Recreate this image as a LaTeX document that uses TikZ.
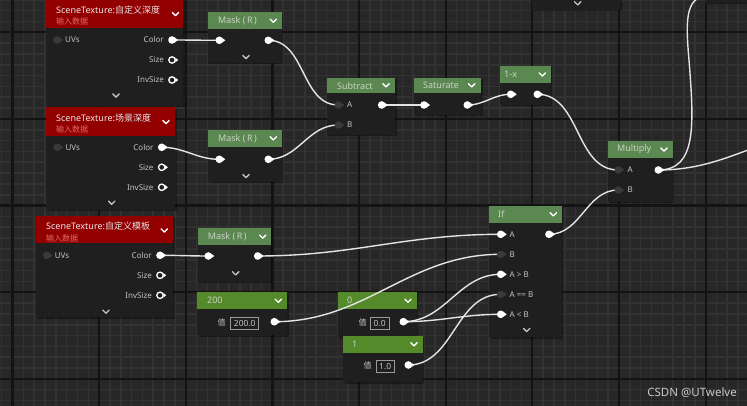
\documentclass[tikz,border=0pt]{standalone}
\usepackage{fontspec}
\setmainfont{Noto Sans}
\newfontfamily\cjk{Noto Sans CJK SC}
\definecolor{bgc}{HTML}{272727}
\definecolor{gridminor}{HTML}{323232}
\definecolor{gridmajor}{HTML}{131313}
\definecolor{bodyc}{HTML}{1F1F1F}
\definecolor{redc}{HTML}{930000}
\definecolor{mathc}{HTML}{5B8751}
\definecolor{constc}{HTML}{548A29}
\definecolor{ttlc}{HTML}{E6E6E6}
\definecolor{gttl}{HTML}{CBD3C6}
\definecolor{subc}{HTML}{E06A6A}
\definecolor{lblc}{HTML}{C4C4C4}
\definecolor{darkpin}{HTML}{3A3A3A}
\definecolor{wirec}{HTML}{E4E4E4}
\definecolor{boxc}{HTML}{9A9A9A}
\definecolor{wmc}{HTML}{C8C8C8}
\pgfdeclarelayer{gridlayer}
\pgfdeclarelayer{bodies}
\pgfdeclarelayer{wires}
\pgfsetlayers{gridlayer,bodies,wires,main}
\tikzset{
  ttl/.style={anchor=west, inner sep=0, font=\fontsize{9}{10}\selectfont, text=ttlc},
  gtl/.style={anchor=west, inner sep=0, font=\fontsize{9}{10}\selectfont, text=gttl},
  subt/.style={anchor=west, inner sep=0, font=\cjk\fontsize{8}{8}\selectfont, text=subc},
  lbl/.style={inner sep=0, font=\fontsize{8}{8}\selectfont, text=lblc},
  lblw/.style={lbl, anchor=west},
  lble/.style={lbl, anchor=east},
  valbox/.style={draw=boxc, line width=0.8, inner sep=0, minimum height=11.6, font=\fontsize{8.4}{9}\selectfont, text=lblc},
  pinw/.style={circle, fill=white, inner sep=0, minimum size=7.6},
  pind/.style={circle, fill=darkpin, inner sep=0, minimum size=7.6},
  pinh/.style={circle, draw=white, line width=1.3, inner sep=0, minimum size=6.4},
  wire/.style={draw=wirec, line width=1.4},
  grminor/.style={draw=gridminor, line width=1.6},
  grmajor/.style={draw=gridmajor, line width=2.2},
}
\newcommand\uebox[6]{%
  \begin{pgfonlayer}{bodies}
    \fill[black, opacity=0.35] (#1+1.5,#3+1.5) rectangle (#2+1.5,#5+1.5);
    \fill[bodyc] (#1,#4) rectangle (#2,#5);
    \fill[#6] (#1,#3) rectangle (#2,#4);
  \end{pgfonlayer}}
\newcommand\uechev[2]{\draw[#1, line width=1.3, line cap=round, line join=round, shift={(#2)}] (-3.2,-1.6) -- (0,1.6) -- (3.2,-1.6);}
\newcommand\pinW[2]{\fill[white, shift={(#2)}] (3.0,2.3) -- (6.0,0) -- (3.0,-2.3) -- cycle; \node[pinw] (#1) at (#2) {};}
\newcommand\pinD[2]{\fill[darkpin, shift={(#2)}] (3.0,2.3) -- (6.0,0) -- (3.0,-2.3) -- cycle; \node[pind] (#1) at (#2) {};}
\newcommand\pinH[2]{\fill[white, shift={(#2)}] (3.4,2.3) -- (6.2,0) -- (3.4,-2.3) -- cycle; \node[pinh] (#1) at (#2) {};}
\begin{document}
\begin{tikzpicture}[x=1pt, y=-1pt]
\useasboundingbox (0,0) rectangle (747,406);
\clip (0,0) rectangle (747,406);
% ---------- grid ----------
\begin{pgfonlayer}{gridlayer}
\fill[bgc] (0,0) rectangle (747,406);
\foreach \i in {-2,...,70} \draw[grminor] ({12.5+\i*10.83},0) -- ++(0,406);
\foreach \j in {-4,...,36} \draw[grminor] (0,{32.3+\j*10.83}) -- ++(747,0);
\foreach \i in {-1,...,9} \draw[grmajor] ({12.5+\i*86.64},0) -- ++(0,406);
\foreach \j in {-1,...,5} \draw[grmajor] (0,{32.3+\j*86.64}) -- ++(747,0);
\end{pgfonlayer}
% ---------- node boxes ----------
\uebox{531.7}{620}{-10}{-9}{10}{bodyc}
\uebox{705}{760}{-10}{-9}{3}{bodyc}
\uebox{46}{183.3}{-3}{27.7}{106}{redc}
\uebox{46}{175}{107.3}{135.7}{210}{redc}
\uebox{36}{173.3}{216}{243.3}{317}{redc}
\uebox{207.7}{281.7}{12.3}{29}{63}{mathc}
\uebox{208.3}{281.7}{130}{146.7}{181.7}{mathc}
\uebox{197.7}{270.7}{228.3}{245}{281.7}{mathc}
\uebox{326.7}{395}{77.7}{93.3}{135}{mathc}
\uebox{414.3}{481}{77.7}{93.3}{115}{mathc}
\uebox{500}{550.7}{66}{82.7}{105}{mathc}
\uebox{607.7}{672.7}{141}{157.7}{202}{mathc}
\uebox{489}{561.7}{206}{222.7}{337}{mathc}
\uebox{197.3}{287}{292.3}{309}{335}{constc}
\uebox{338.3}{416.7}{292.3}{309}{337}{constc}
\uebox{343.3}{422.7}{336}{352.7}{382}{constc}
% ---------- titles ----------
\node[ttl] (t1) at (56,10) {SceneTexture:{\cjk 自定义深度}};
\node[subt] (s1) at (56,21.5) {输入数据};
\node[ttl] (t2) at (56,118) {SceneTexture:{\cjk 场景深度}};
\node[subt] (s2) at (56,129.5) {输入数据};
\node[ttl] (t3) at (46,226.5) {SceneTexture:{\cjk 自定义模板}};
\node[subt] (s3) at (46,238) {输入数据};
\node[gtl] (tm1) at (218,21) {Mask (\,R\,)};
\node[gtl] (tm2) at (218,138.5) {Mask (\,R\,)};
\node[gtl] (tm3) at (207.7,237) {Mask (\,R\,)};
\node[gtl] (tsub) at (337,85.7) {Subtract};
\node[gtl] (tsat) at (423,85.7) {Saturate};
\node[gtl] (tomx) at (504,74.5) {1-x};
\node[gtl] (tmul) at (617,149.5) {Multiply};
\node[gtl] (tif) at (498,214.5) {If};
\node[gtl] (tc200) at (207,300.7) {200};
\node[gtl] (tc0) at (347,300.7) {0};
\node[gtl] (tc1) at (352,344.3) {1};
% header chevrons
\uechev{white}{175.5,14}
\uechev{white}{166,122}
\uechev{white}{164.3,230.5}
\uechev{white}{273.3,20.7}
\uechev{white}{273.3,138.3}
\uechev{white}{262.7,236.6}
\uechev{white}{386,85.3}
\uechev{white}{471.7,85.3}
\uechev{white}{542.3,74.5}
\uechev{white}{664,149.5}
\uechev{white}{553.3,214.3}
\uechev{white}{278.3,300.7}
\uechev{white}{408,300.7}
\uechev{white}{414,344.3}
% body chevrons
\uechev{lblc}{116,95.5}
\uechev{lblc}{111.7,202.7}
\uechev{lblc}{106,311.7}
\uechev{lblc}{246,57}
\uechev{lblc}{246,176}
\uechev{lblc}{235.7,273.3}
\uechev{lblc}{526.7,330}
\uechev{lblc}{577.7,3.3}
% ---------- labels ----------
\node[lblw] (l1u) at (65,40) {UVs};
\node[lble] (l1c) at (164,40) {Color};
\node[lble] (l1s) at (164,60) {Size};
\node[lble] (l1i) at (164,80) {InvSize};
\node[lblw] (l2u) at (65.3,147.3) {UVs};
\node[lble] (l2c) at (153.7,147.3) {Color};
\node[lble] (l2s) at (153.7,167.3) {Size};
\node[lble] (l2i) at (153.7,187.3) {InvSize};
\node[lblw] (l3u) at (54.7,255.3) {UVs};
\node[lble] (l3c) at (152,255.3) {Color};
\node[lble] (l3s) at (152,275.3) {Size};
\node[lble] (l3i) at (152,295.3) {InvSize};
\node[lblw] (lsa) at (347,105) {A};
\node[lblw] (lsb) at (347,125) {B};
\node[lblw] (lma) at (627.5,170) {A};
\node[lblw] (lmb) at (627.5,190) {B};
\node[lblw] (lia) at (509.5,234.3) {A};
\node[lblw] (lib) at (509.5,254.3) {B};
\node[lblw] (lig) at (509.5,274.3) {A > B};
\node[lblw] (lie) at (509.5,294.3) {A == B};
\node[lblw] (lil) at (509.5,314.3) {A < B};
\node[lbl, font=\cjk\fontsize{8}{8}\selectfont] (z200) at (221.7,322.9) {值};
\node[valbox, minimum width=28] (v200) at (244.7,323.5) {200.0};
\node[lbl, font=\cjk\fontsize{8}{8}\selectfont] (z0) at (362.7,322.9) {值};
\node[valbox, minimum width=18.7] (v0) at (379.65,323.5) {0.0};
\node[lbl, font=\cjk\fontsize{8}{8}\selectfont] (z1) at (367.7,365.5) {值};
\node[valbox, minimum width=18.3, minimum height=12.7] (v1) at (385.15,366.35) {1.0};
% ---------- pin coordinates ----------
\coordinate (st1u) at (57,40);      \coordinate (st1c) at (172,40);
\coordinate (st1s) at (172,60);     \coordinate (st1i) at (172,80);
\coordinate (st2u) at (57.3,147.3); \coordinate (st2c) at (161.7,147.3);
\coordinate (st2s) at (161.7,167.3);\coordinate (st2i) at (161.7,187.3);
\coordinate (st3u) at (46.7,255.3); \coordinate (st3c) at (160,255.3);
\coordinate (st3s) at (160,275.3);  \coordinate (st3i) at (160,295.3);
\coordinate (m1i) at (219.3,40.3);  \coordinate (m1o) at (268.3,40.3);
\coordinate (m2i) at (219.3,159.3); \coordinate (m2o) at (268.3,159.3);
\coordinate (m3i) at (208.3,256);   \coordinate (m3o) at (257.7,256);
\coordinate (suba) at (338.3,105);  \coordinate (subb) at (338.3,125);
\coordinate (subo) at (381.7,105);
\coordinate (sati) at (424,105);    \coordinate (sato) at (467.3,105);
\coordinate (omxi) at (510.7,94.3); \coordinate (omxo) at (537.3,94.3);
\coordinate (mula) at (618.3,170);  \coordinate (mulb) at (618.3,190);
\coordinate (mulo) at (658.3,170);
\coordinate (ifa) at (500.7,234.3); \coordinate (ifb) at (500.7,254.3);
\coordinate (ifg) at (500.7,274.3); \coordinate (ife) at (500.7,294.3);
\coordinate (ifl) at (500.7,314.3); \coordinate (ifo) at (549,234.3);
\coordinate (c200o) at (274.3,321.7);
\coordinate (c0o) at (403.3,321.7);
\coordinate (c1o) at (408.3,365);
\coordinate (topT) at (712,-6);
\coordinate (rightT) at (810,132);
% ---------- wires ----------
\begin{pgfonlayer}{wires}
\draw[wire] (st1c) to[out=0,in=180] (m1i);
\draw[wire] (m1o) to[out=0,in=180] (suba);
\draw[wire] (st2c) to[out=0,in=180] (m2i);
\draw[wire] (m2o) to[out=0,in=180] (subb);
\draw[wire] (subo) to[out=0,in=180] (sati);
\draw[wire] (sato) to[out=0,in=180] (omxi);
\draw[wire] (omxo) to[out=0,in=180] (mula);
\draw[wire] (ifo) to[out=0,in=180] (mulb);
\draw[wire] (st3c) to[out=0,in=180] (m3i);
\draw[wire] (m3o) to[out=0,in=180] (ifa);
\draw[wire] (c200o) to[out=0,in=180] (ifb);
\draw[wire] (c0o) to[out=0,in=180] (ifg);
\draw[wire] (c0o) to[out=0,in=180] (ifl);
\draw[wire] (c1o) to[out=0,in=180] (ife);
\draw[wire] (mulo) .. controls (697,170) and (694,125) .. (689,60) .. controls (685,15) and (686,-4) .. (topT);
\draw[wire] (mulo) to[out=0,in=190] (rightT);
\end{pgfonlayer}
% ---------- pins ----------
\pinD{p1u}{st1u} \pinW{p1c}{st1c} \pinH{p1s}{st1s} \pinH{p1i}{st1i}
\pinD{p2u}{st2u} \pinW{p2c}{st2c} \pinH{p2s}{st2s} \pinH{p2i}{st2i}
\pinD{p3u}{st3u} \pinW{p3c}{st3c} \pinH{p3s}{st3s} \pinH{p3i}{st3i}
\pinW{pm1i}{m1i} \pinW{pm1o}{m1o}
\pinW{pm2i}{m2i} \pinW{pm2o}{m2o}
\pinW{pm3i}{m3i} \pinW{pm3o}{m3o}
\pinD{psa}{suba} \pinD{psb}{subb} \pinW{pso}{subo}
\pinW{psti}{sati} \pinW{psto}{sato}
\pinW{poi}{omxi} \pinW{poo}{omxo}
\pinD{pma}{mula} \pinD{pmb}{mulb} \pinW{pmo}{mulo}
\pinW{pia}{ifa} \pinD{pib}{ifb} \pinW{pig}{ifg} \pinD{pie}{ife} \pinW{pil}{ifl} \pinW{pio}{ifo}
\pinW{pc200}{c200o} \pinW{pc0}{c0o} \pinW{pc1}{c1o}
% ---------- watermark ----------
\node[anchor=east, inner sep=0, font=\fontsize{11.5}{12}\selectfont, text=wmc] (wm) at (737,392.5) {CSDN @UTwelve};
\end{tikzpicture}
\end{document}
